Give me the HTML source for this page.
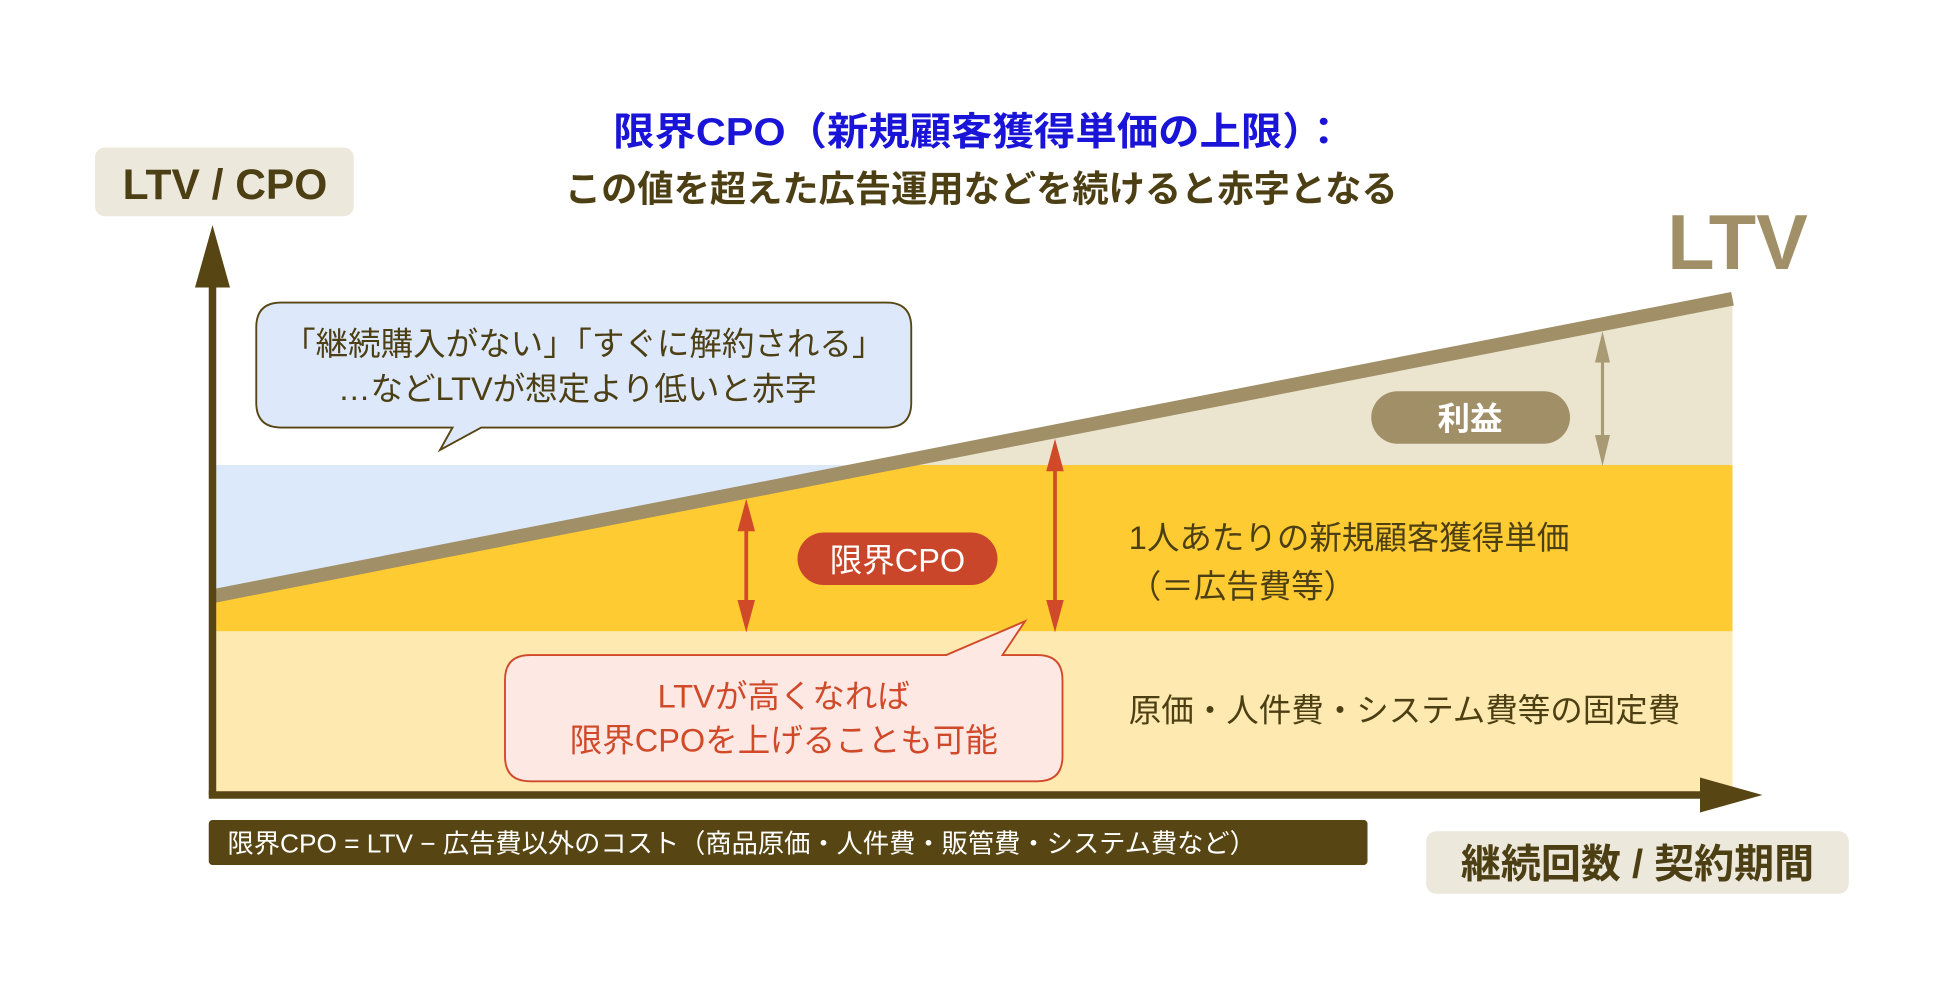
<!DOCTYPE html>
<html><head><meta charset="utf-8"><style>
html,body{margin:0;padding:0;background:#fff;width:1960px;height:1000px;overflow:hidden}
svg text{font-family:"Liberation Sans","Noto Sans CJK JP",sans-serif}
</style></head><body>
<svg width="1960" height="1000" viewBox="0 0 1568 800" xmlns="http://www.w3.org/2000/svg">
<rect width="1568" height="800" fill="#fff"/>
<text x="783" y="116" text-anchor="middle" font-size="31" font-weight="bold" fill="#1a14d8" textLength="585" lengthAdjust="spacingAndGlyphs">限界CPO（新規顧客獲得単価の上限）：</text>
<text x="785" y="161" text-anchor="middle" font-size="29" font-weight="bold" fill="#4d3f14">この値を超えた広告運用などを続けると赤字となる</text>
<rect x="76" y="118" width="207" height="55" rx="8" fill="#ece8dc"/>
<text x="180" y="159" text-anchor="middle" font-size="34" font-weight="bold" fill="#4d3f14">LTV / CPO</text>
<rect x="173" y="505" width="1213" height="129" fill="#feeab0"/>
<rect x="173" y="372" width="1213" height="133" fill="#fecb33"/>
<polygon points="173,372 698,372 173,475" fill="#dce9fb"/>
<polygon points="698,372 1386,238 1386,372" fill="#ebe5d0"/>
<line x1="170" y1="477" x2="1386" y2="239" stroke="#a08f67" stroke-width="11"/>
<text x="1390" y="215" text-anchor="middle" font-size="62" font-weight="bold" fill="#a08f67">LTV</text>
<line x1="1282" y1="275" x2="1282" y2="362" stroke="#a89a72" stroke-width="2.5"/>
<polygon points="1282,265 1276,290 1288,290" fill="#a89a72"/>
<polygon points="1282,373 1276,348 1288,348" fill="#a89a72"/>
<rect x="1097" y="313" width="159" height="42" rx="21" fill="#a08f67"/>
<text x="1176" y="344" text-anchor="middle" font-size="26" font-weight="bold" fill="#fff">利益</text>
<line x1="597" y1="410" x2="597" y2="495" stroke="#d04a2a" stroke-width="3"/>
<polygon points="597,399 590,425 604,425" fill="#d04a2a"/>
<polygon points="597,506 590,480 604,480" fill="#d04a2a"/>
<line x1="844" y1="362" x2="844" y2="495" stroke="#d04a2a" stroke-width="3"/>
<polygon points="844,351 837,377 851,377" fill="#d04a2a"/>
<polygon points="844,506 837,480 851,480" fill="#d04a2a"/>
<rect x="638" y="426" width="160" height="42" rx="21" fill="#c9462a"/>
<text x="718" y="457" text-anchor="middle" font-size="26" fill="#fff">限界CPO</text>
<text x="903" y="439" font-size="26" fill="#4d3f14">1人あたりの新規顧客獲得単価</text>
<text x="903" y="478" font-size="26" fill="#4d3f14">（＝広告費等）</text>
<text x="903" y="577" font-size="26" fill="#4d3f14">原価・人件費・システム費等の固定費</text>
<line x1="170" y1="215" x2="170" y2="636" stroke="#574614" stroke-width="6"/>
<polygon points="170,180 156,230 184,230" fill="#574614"/>
<line x1="167" y1="636" x2="1370" y2="636" stroke="#574614" stroke-width="6"/>
<polygon points="1410,636 1360,622 1360,650" fill="#574614"/>
<path d="M225,242 H709 Q729,242 729,262 V322 Q729,342 709,342 H385 L352,360 L362,342 H225 Q205,342 205,322 V262 Q205,242 225,242 Z" fill="#dde9fb" stroke="#574614" stroke-width="1.5"/>
<text x="467" y="284" text-anchor="middle" font-size="26" fill="#4d3f14">「継続購入がない」「すぐに解約される」</text>
<text x="462" y="320" text-anchor="middle" font-size="26" fill="#4d3f14">…などLTVが想定より低いと赤字</text>
<path d="M424,524 H757 L820,497 L802,524 H830 Q850,524 850,544 V605 Q850,625 830,625 H424 Q404,625 404,605 V544 Q404,524 424,524 Z" fill="#fde8e3" stroke="#d04a2a" stroke-width="1.5"/>
<text x="627" y="566" text-anchor="middle" font-size="26" fill="#d04a2a">LTVが高くなれば</text>
<text x="627" y="601" text-anchor="middle" font-size="26" fill="#d04a2a">限界CPOを上げることも可能</text>
<rect x="167" y="656" width="927" height="36" rx="3" fill="#574614"/>
<text x="182" y="682" font-size="21" fill="#fff">限界CPO = LTV − 広告費以外のコスト（商品原価・人件費・販管費・システム費など）</text>
<rect x="1141" y="665" width="338" height="50" rx="8" fill="#ece8dc"/>
<text x="1310" y="702" text-anchor="middle" font-size="32" font-weight="bold" fill="#4d3f14">継続回数 / 契約期間</text>
</svg>
</body></html>
